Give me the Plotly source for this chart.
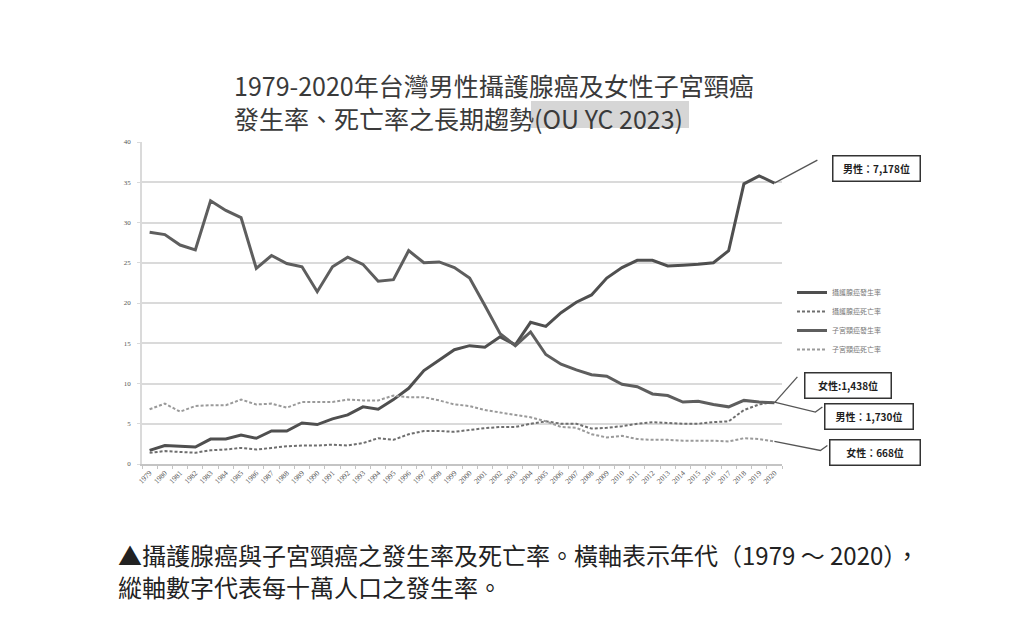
import plotly.graph_objects as go

years = list(range(1979, 2021))

prostate_inc = [1.7, 2.3, 2.2, 2.1, 3.1, 3.1, 3.6, 3.2, 4.1, 4.1, 5.1, 4.9, 5.6, 6.1, 7.1, 6.8, 8.0, 9.4, 11.6, 12.9, 14.2,
                14.7, 14.5, 15.8, 14.8, 17.6, 17.1, 18.8, 20.1, 21.0, 23.1, 24.4, 25.3, 25.3, 24.6, 24.7, 24.8, 25.0, 26.5, 34.8, 35.8, 34.9]
prostate_death = [1.4, 1.6, 1.5, 1.4, 1.7, 1.8, 2.0, 1.8, 2.0, 2.2, 2.3, 2.3, 2.4, 2.3, 2.6, 3.2, 3.0, 3.7, 4.1, 4.1, 4.0,
                  4.25, 4.45, 4.6, 4.6, 5.0, 5.3, 5.0, 5.0, 4.4, 4.5, 4.7, 5.0, 5.2, 5.1, 5.0, 5.0, 5.2, 5.3, 6.7, 7.4, 7.7]
cervical_inc = [28.8, 28.5, 27.2, 26.6, 32.7, 31.5, 30.6, 24.3, 25.9, 24.9, 24.5, 21.4, 24.5, 25.7, 24.8, 22.7, 22.9, 26.5, 25.0, 25.1, 24.4,
                23.1, 19.7, 16.2, 14.7, 16.4, 13.6, 12.4, 11.7, 11.1, 10.9, 9.9, 9.6, 8.7, 8.5, 7.7, 7.8, 7.4, 7.1, 7.9, 7.7, 7.6]
cervical_death = [6.8, 7.5, 6.5, 7.2, 7.3, 7.3, 8.0, 7.4, 7.5, 7.0, 7.7, 7.7, 7.7, 8.0, 7.9, 7.9, 8.5, 8.3, 8.3, 7.9, 7.4,
                  7.2, 6.7, 6.4, 6.1, 5.8, 5.3, 4.6, 4.5, 3.7, 3.3, 3.5, 3.1, 3.0, 3.0, 2.9, 2.9, 2.9, 2.8, 3.2, 3.1, 2.8]

series_names = ["攝護腺癌發生率", "攝護腺癌死亡率", "子宮頸癌發生率", "子宮頸癌死亡率"]
callouts = ["男性：7,178位", "女性:1,438位", "男性：1,730位", "女性：668位"]

title_lines = ["1979-2020年台灣男性攝護腺癌及女性子宮頸癌", "發生率、死亡率之長期趨勢(OU YC 2023)"]
caption_lines = ["▲攝護腺癌與子宮頸癌之發生率及死亡率。橫軸表示年代（1979 ～ 2020），",
                 "縱軸數字代表每十萬人口之發生率。"]

W, H = 1024, 618
OFF = 8  # page body margin in the browser
L, T, PW, PH = 142 - OFF, 142 - OFF, 640, 322
X_RANGE = [1978.5, 2020.5]
Y_RANGE = [0, 40]

CJK = "Noto Sans CJK TC"


def px(x):
    return (x - OFF - L) / PW


def py(y):
    return (T + PH - (y - OFF)) / PH


def data_px(xv, yv):
    return ((xv - X_RANGE[0]) / (X_RANGE[1] - X_RANGE[0]),
            (yv - Y_RANGE[0]) / (Y_RANGE[1] - Y_RANGE[0]))


fig = go.Figure()
fig.add_trace(go.Scatter(x=years, y=prostate_inc, mode="lines", name=series_names[0],
                         line=dict(color="#4f4f4f", width=3)))
fig.add_trace(go.Scatter(x=years, y=prostate_death, mode="lines", name=series_names[1],
                         line=dict(color="#6e6e6e", width=2, dash="3px,2px")))
fig.add_trace(go.Scatter(x=years, y=cervical_inc, mode="lines", name=series_names[2],
                         line=dict(color="#5e5e5e", width=3)))
fig.add_trace(go.Scatter(x=years, y=cervical_death, mode="lines", name=series_names[3],
                         line=dict(color="#9a9a9a", width=2, dash="3px,2px")))

# leader lines from the 2020 points to the callout boxes (pixel offsets)
leaders = [
    (prostate_inc[-1], "M0,0 L43,23"),
    (cervical_inc[-1], "M0,0 L23,26"),
    (prostate_death[-1], "M0,0 L41,-10 L48,-5"),
    (cervical_death[-1], "M0,0 L46,-9 L53,-4"),
]
for val, path in leaders:
    ax, ay = data_px(years[-1], val)
    fig.add_shape(type="path", xref="paper", yref="paper", xsizemode="pixel", ysizemode="pixel",
                  xanchor=ax, yanchor=ay, path=path, line=dict(color="#555555", width=1.3))

boxes = [(876, 168.5, 84), (847.5, 385.5, 83), (868.5, 416, 85), (874.5, 452.5, 87)]
for (bx, by, bw), txt in zip(boxes, callouts):
    fig.add_annotation(x=px(bx), y=py(by), xref="paper", yref="paper", text=txt, showarrow=False,
                       xanchor="center", yanchor="middle",
                       width=bw, height=22, borderpad=1, bordercolor="#333333", borderwidth=1.5,
                       bgcolor="white", font=dict(family=CJK, size=10, color="#1e1e1e", weight="bold"))

# grey highlight behind the citation in the title
fig.add_shape(type="rect", xref="paper", yref="paper", x0=px(531), x1=px(689), y0=py(128), y1=py(101),
              fillcolor="#d6d6d6", line=dict(width=0), layer="below")

fig.add_annotation(x=px(232), y=py(101), xref="paper", yref="paper", text="<br>".join(title_lines),
                   showarrow=False, xanchor="left", yanchor="middle", align="left",
                   font=dict(family=CJK, size=25, color="#3a3a3a"))

for line, cy in zip(caption_lines, [554.5, 586]):
    fig.add_annotation(x=px(117), y=py(cy), xref="paper", yref="paper", text=line,
                       showarrow=False, xanchor="left", yanchor="middle", borderpad=0,
                       font=dict(family=CJK, size=24, color="#222222"))

fig.update_layout(
    width=W, height=H,
    margin=dict(l=L, r=W - L - PW, t=T, b=H - T - PH, pad=0),
    paper_bgcolor="white", plot_bgcolor="white",
    showlegend=True,
    legend=dict(x=px(792), y=py(278), xanchor="left", yanchor="top",
                font=dict(family=CJK, size=7, color="#777777"),
                bgcolor="rgba(0,0,0,0)", itemwidth=30, tracegroupgap=0),
    xaxis=dict(range=X_RANGE, tickmode="array", tickvals=years, ticktext=[str(y) for y in years],
               tickangle=-45, tickfont=dict(family="Liberation Serif", size=7.5, color="#555555"),
               showgrid=False, zeroline=False, showline=True, linecolor="#c4c4c4", linewidth=1.5,
               ticks="", minor=dict(ticks="outside", ticklen=3, tick0=1978.5, dtick=1,
                                    tickcolor="#c4c4c4", showgrid=False)),
    yaxis=dict(range=Y_RANGE, dtick=5, showgrid=True, gridcolor="#dadada", gridwidth=1.5,
               zeroline=False, showline=True, linecolor="#dadada", linewidth=1.5,
               ticks="outside", ticklen=3, tickcolor="#dadada",
               tickfont=dict(family="Liberation Serif", size=7, color="#555555"),
               ticklabelstandoff=5),
)

fig.write_html("out.html")
